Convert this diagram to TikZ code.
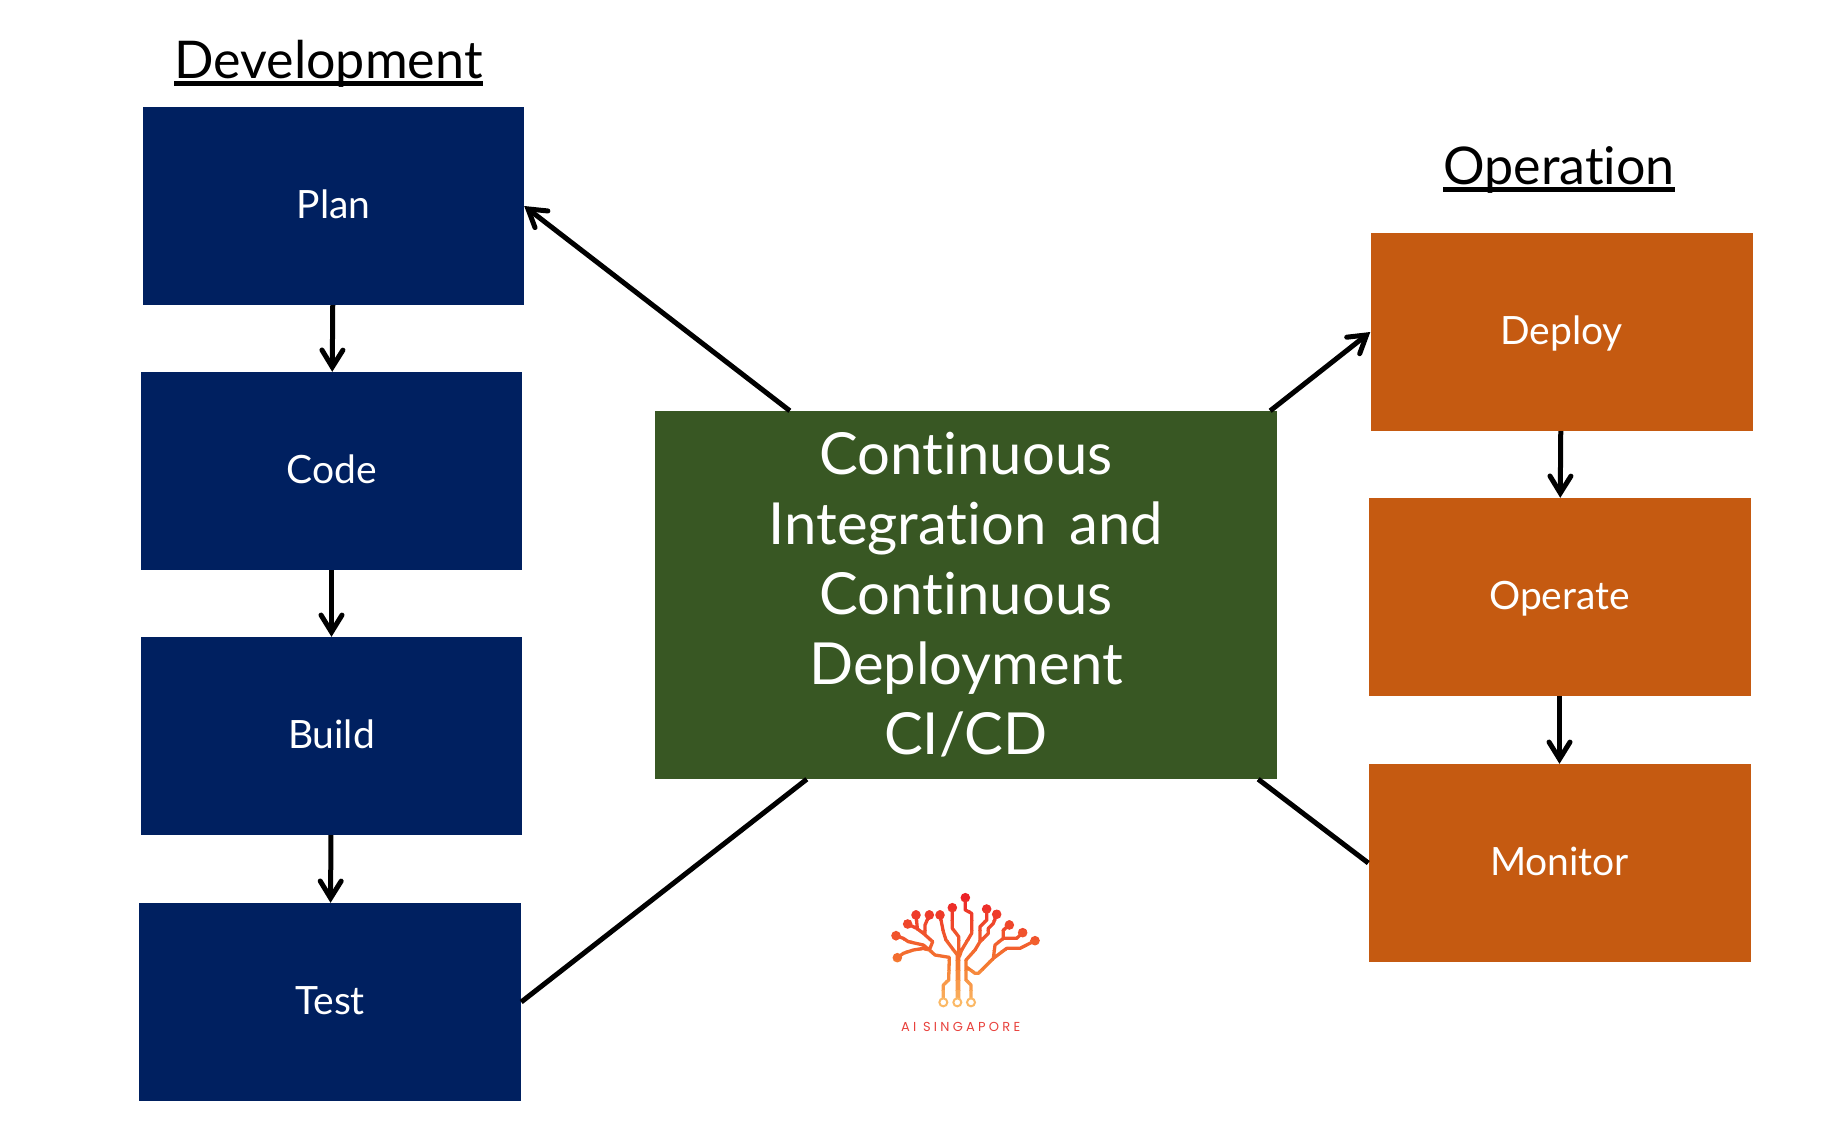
\documentclass[tikz,border=0pt]{standalone}
\usepackage{fontspec}
\setmainfont{Lato}[Ligatures=NoCommon]
\newfontfamily\logofont{Poppins}[LetterSpace=25]
\usetikzlibrary{arrows.meta}

\definecolor{devblue}{HTML}{002060}
\definecolor{opsorange}{HTML}{C55A11}
\definecolor{cigreen}{HTML}{385723}
\definecolor{logored}{HTML}{EC2228}
\definecolor{logomid}{HTML}{F47A30}
\definecolor{logolight}{HTML}{FBB865}
\definecolor{logotext}{HTML}{E8413C}

\tikzset{
	stagebox/.style={rectangle,minimum width=381pt,minimum height=198pt,inner sep=0pt,
		text=white,text height=32pt,text depth=8pt,font=\fontsize{39}{39}\selectfont},
	devbox/.style={stagebox,fill=devblue},
	opsbox/.style={stagebox,fill=opsorange,minimum width=382pt},
	headtext/.style={anchor=base,inner sep=0pt,font=\fontsize{52}{52}\selectfont},
	link/.style={line width=5pt},
	flow/.style={link,-{Straight Barb[length=17pt,width=21pt,line cap=round]}}
}

% underline that runs through the descenders
\newcommand{\headline}[1]{\setbox0=\hbox{#1}\rlap{\rule[-7.3pt]{\wd0}{4.5pt}}\box0}

% tree of the logo, in pixels of a 3x crop
\newcommand{\logotree}[1]{
	\draw[#1,line width=3.3pt,line join=round,line cap=round]
		(250,385) -- (250,345) -- (266,330) -- (268,262) -- (225,255) -- (208,240) -- (190,235)
			-- (160,240) -- (130,250) -- (112,263)
		(208,240) -- (218,215) -- (190,190) -- (170,175) -- (143,162)
		(172,175) -- (168,135)
		(195,190) -- (195,165) -- (208,135)
		(208,240) -- (190,225) -- (145,215) -- (130,205) -- (108,197)
		(292,385) -- (292,255) -- (258,210) -- (250,185) -- (240,135)
		(296,385) -- (296,200) -- (277,175) -- (277,113)
		(298,260) -- (305,240) -- (335,190) -- (335,130) -- (316,120) -- (316,83)
		(333,385) -- (333,345) -- (318,330) -- (318,270) -- (345,240) -- (360,215)
			-- (360,170) -- (380,150) -- (380,117)
		(360,215) -- (385,190) -- (385,175) -- (400,160) -- (410,133)
		(318,290) -- (345,310) -- (355,310) -- (400,265) -- (440,235) -- (480,235) -- (525,212)
		(400,265) -- (405,225) -- (430,205) -- (470,205) -- (488,188)
		(430,205) -- (430,180) -- (448,165);
	\foreach \dotx/\doty in {112/263,143/162,168/135,208/135,108/197,240/135,277/113,316/83,
		380/117,410/133,525/212,488/188,448/165}
		\fill[#1] (\dotx,\doty) circle (4.8pt);
}

\begin{document}
\begin{tikzpicture}[x=1pt,y=-1pt,node distance=265pt]

	\useasboundingbox (0,0) rectangle (1822,1125);

	\node[devbox] (plan) at (333.5,206) {Plan};
	\node[devbox] (code) [below of=plan,xshift=-2pt] {Code};
	\node[devbox] (build) [below of=code] {Build};
	\node[devbox] (test) [below of=build,xshift=-1.5pt,yshift=-1pt,minimum width=382pt] {Test};

	\node[opsbox] (deploy) at (1561.5,332) {Deploy};
	\node[opsbox] (operate) [below of=deploy,xshift=-2pt] {Operate};
	\node[opsbox] (monitor) [below of=operate,yshift=-1pt] {Monitor};

	\node[rectangle,fill=cigreen,minimum width=622pt,minimum height=368pt,inner sep=0pt,
		text=white,align=center,font=\fontsize{58}{70}\selectfont] (cicd) at (966,595)
		{Continuous\\Integration\hspace{8pt} and\\Continuous\\Deployment\\CI/CD};

	\node[headtext] (devhead) at (328.5,78.5) {\headline{Development}};
	\node[headtext] (opshead) at (1559,184.5) {\headline{Operation}};

	\coordinate (cicdplan) at ([xshift=135pt]cicd.north west);
	\coordinate (cicddeploy) at ([xshift=-7pt]cicd.north east);
	\coordinate (cicdtest) at ([xshift=152pt]cicd.south west);
	\coordinate (cicdmonitor) at ([xshift=-19pt]cicd.south east);

	\draw[flow] (plan) -- (code);
	\draw[flow] (code) -- (build);
	\draw[flow] (build) -- (test);
	\draw[flow] (deploy) -- (operate);
	\draw[flow] (operate) -- (monitor);
	\draw[flow] (cicdplan) -- (plan.east);
	\draw[flow] (cicddeploy) -- (deploy.west);
	\draw[link] (test.east) -- (cicdtest);
	\draw[link] (monitor.west) -- (cicdmonitor);

	% logo, with its colour in bands from top to bottom
	\begin{scope}[shift={(860,870)},x=1pt/3,y=-1pt/3]
		\foreach \band in {0,...,11}{
			\pgfmathtruncatemacro{\bandtop}{60+30*\band}
			\pgfmathtruncatemacro{\mixa}{min(100,100*\band/7)}
			\pgfmathtruncatemacro{\mixb}{max(0,100*(\band-7)/4)}
			\begin{scope}
				\clip (0,\bandtop) rectangle (660,\bandtop+32);
				\logotree{logolight!\mixb!logomid!\mixa!logored}
			\end{scope}
		}
		\foreach \ringx in {250,292,333}
			\draw[logolight,line width=2pt,fill=white] (\ringx,397) circle (4pt);
		\node[anchor=base,inner sep=0pt,text=logotext,font=\logofont\fontsize{13}{13}\selectfont] (logomark) at (302,483) {AI SINGAPORE};
	\end{scope}

\end{tikzpicture}
\end{document}
